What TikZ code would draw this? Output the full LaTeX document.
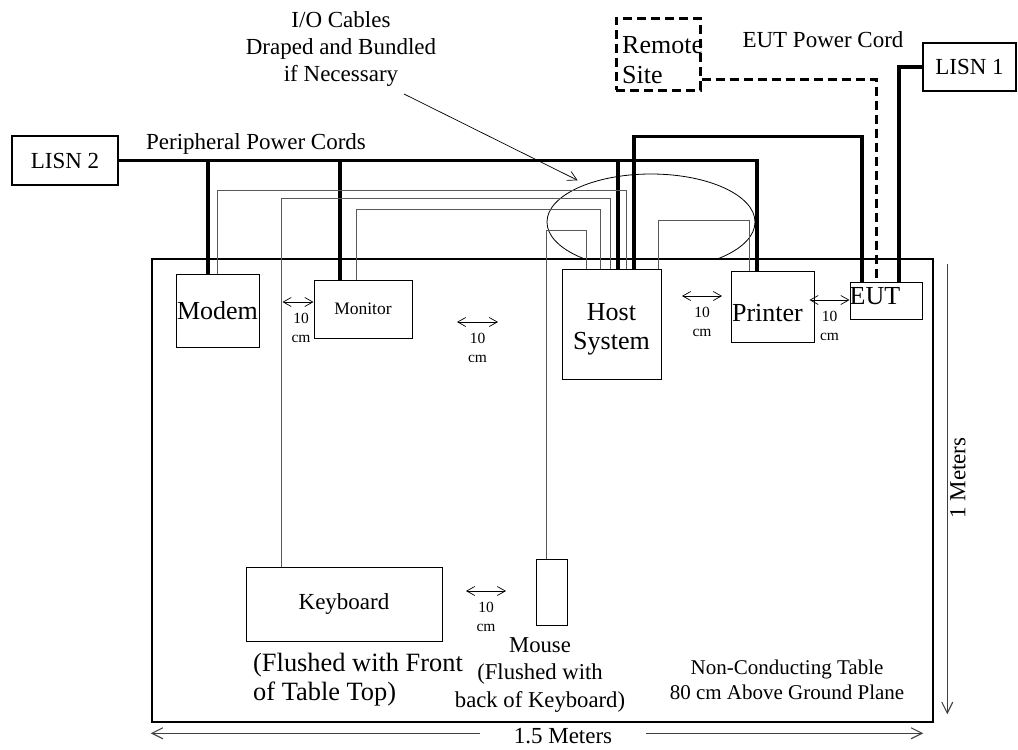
\documentclass[tikz,border=0pt]{standalone}
\usepackage{fontspec}
\setmainfont{Liberation Serif}
\usetikzlibrary{positioning,arrows,arrows.meta,shapes.geometric}
\newcommand{\fs}[2]{\fontsize{#1}{#2}\selectfont}

\begin{document}
\begin{tikzpicture}[x=1pt,y=-1pt]
    \tikzset{unit box/.style = {draw, line width=1pt, inner sep=0pt},
             lisn box/.style = {draw, line width=1.8pt, inner sep=0pt, font=\fs{23}{27}},
             power/.style = {line width=3.8pt},
             io cable/.style = {line width=1pt, black!65},
             gap/.style = {<->, >={Straight Barb[length=8pt,width=9pt]}, line width=0.7pt},
             gap label/.style = {align=center, font=\fs{15.5}{19}, inner sep=0pt, anchor=north, yshift=-10.5pt},
             dim/.style = {->, >={Straight Barb[length=11pt,width=11pt]}, line width=1.1pt, black!75}}
    \useasboundingbox (0,0) rectangle (1018,750);
    % cable bundle, hidden under the table edge
    \begin{scope}
        \clip (0,0) rectangle (1018,259);
        \node[ellipse, draw, line width=0.8pt, minimum width=208pt, minimum height=96pt, inner sep=0pt] (bundle) at (651,222) {};
    \end{scope}
    \node[draw, line width=2.5pt, minimum width=781pt, minimum height=463pt, inner sep=0pt] (table) at (542.5,490.5) {};
    %% units
    \node[lisn box, minimum width=106pt, minimum height=49pt] (lisn2) at (65,160.5) {LISN 2};
    \node[lisn box, minimum width=93pt, minimum height=48pt] (lisn1) at (969.5,67) {LISN 1};
    \node[draw, dash pattern=on 9pt off 5pt, line width=3pt, minimum width=84pt, minimum height=72pt] (remote) at (658,54) {};
    \node[anchor=west, inner sep=0pt, align=left, font=\fs{26}{30}] (remote text) at (622,60) {Remote\\Site};
    \node[unit box, minimum width=83pt, minimum height=73pt, font=\fs{26}{30}] (modem) at (217.5,310.5) {Modem};
    \node[unit box, minimum width=98pt, minimum height=58pt, font=\fs{17.5}{20}] (monitor) at (363,309) {Monitor};
    \node[unit box, minimum width=99pt, minimum height=110pt,
          label={[align=center, font=\fs{26}{29}, yshift=-5pt]center:{Host\\System}}] (host) at (611.5,324) {};
    \node[unit box, minimum width=83pt, minimum height=71pt,
          label={[font=\fs{26}{30}, xshift=-5pt, yshift=-6.5pt]center:Printer}] (printer) at (772.5,306.5) {};
    \node[unit box, minimum width=72pt, minimum height=37pt,
          label={[font=\fs{26}{30}, anchor=west, inner sep=0pt, yshift=4pt]west:EUT}] (eut) at (886,300.5) {};
    \node[unit box, minimum width=196pt, minimum height=74pt, font=\fs{23}{27}] (keyboard) at (344,604) {Keyboard};
    \node[unit box, minimum width=31pt, minimum height=66pt] (mouse) at (551.5,592) {};
    %% power cords
    \draw[power] (lisn2.east) -| ([xshift=-9.5pt]modem.north);
    \draw[power] (lisn2.east) -| ([xshift=-23pt]monitor.north);
    \draw[power] (lisn2.east) -| ([xshift=6.5pt]host.north);
    \draw[power] (lisn2.east) -| ([xshift=-15.5pt]printer.north);
    \draw[power] ([xshift=22.5pt]host.north) -- ++(0,-132) -| ([xshift=-24pt]eut.north);
    \draw[power] (lisn1.west) -| ([xshift=13pt]eut.north);
    \draw[line width=3pt, dash pattern=on 9pt off 5pt] ([yshift=-25pt]remote.east) -| ([xshift=-10pt]eut.north);
    %% I/O cables
    \draw[io cable] ([xshift=-0.5pt]modem.north) -- ++(0,-83) -| ([xshift=14.5pt]host.north);
    \draw[io cable] ([xshift=-63pt]keyboard.north) -- ++(0,-368) -| ([xshift=-1.5pt]host.north);
    \draw[io cable] ([xshift=-7pt]monitor.north) -- ++(0,-70) -| ([xshift=-11.5pt]host.north);
    \draw[io cable] ([xshift=-5.5pt]mouse.north) -- ++(0,-328) -| ([xshift=-25.5pt]host.north);
    \draw[io cable] ([xshift=46.5pt]host.north) -- ++(0,-48) -| ([xshift=-23.5pt]printer.north);
    %% spacings
    \coordinate (mid gap) at (457,322);
    \coordinate (host gap) at (682,296);
    \coordinate (kb gap) at (466,591);
    \draw[gap] ([yshift=7pt]monitor.west) -- ++(-31,0) node[gap label, midway, xshift=3pt] (g1) {10\\cm};
    \draw[gap] (mid gap) -- ++(41,0) node[gap label, midway] (g2) {10\\cm};
    \draw[gap] (host gap) -- ++(40,0) node[gap label, midway] (g3) {10\\cm};
    \draw[gap] ([yshift=0.5pt]eut.west) -- ++(-40,0) node[gap label, midway] (g4) {10\\cm};
    \draw[gap] (kb gap) -- ++(40,0) node[gap label, midway] (g5) {10\\cm};
    %% texts
    \node[font=\fs{23}{27}] (cords) at (256,143.5) {Peripheral Power Cords};
    \node[font=\fs{23}{27}] (eut cord) at (823,40) {EUT Power Cord};
    \node[font=\fs{23}{27}, align=center] (io text) at (341,49) {I/O Cables\\Draped and Bundled\\if Necessary};
    \coordinate (io end) at (404,94);
    \draw[->, >={Straight Barb[length=9pt,width=10pt]}, line width=0.7pt, shorten >=9pt] (io end) -- (bundle.150);
    \node[font=\fs{26.4}{29}, align=left, anchor=west, inner sep=0pt] (kb note) at (253,680) {(Flushed with Front\\of Table Top)};
    \node[font=\fs{22.7}{27.5}, align=center] (mouse note) at (540,675) {Mouse\\(Flushed with\\back of Keyboard)};
    \node[font=\fs{21}{25}, align=center] (table note) at (787,680) {Non-Conducting Table\\80 cm Above Ground Plane};
    %% table size
    \draw[dim] ([xshift=13pt,yshift=-6pt]table.north east) -- ([xshift=13pt,yshift=9pt]table.south east);
    \draw[dim, <->] ([yshift=-10pt]table.south west) -- ([xshift=-11pt,yshift=-10pt]table.south east);
    \node[fill=white, rotate=90, font=\fs{23}{27}, inner xsep=6pt, inner ysep=2pt] (height) at (958,478) {1 Meters};
    \node[fill=white, font=\fs{23}{27}, inner xsep=34pt, inner ysep=1pt] (width) at (563,736.5) {1.5 Meters};
\end{tikzpicture}
\end{document}
